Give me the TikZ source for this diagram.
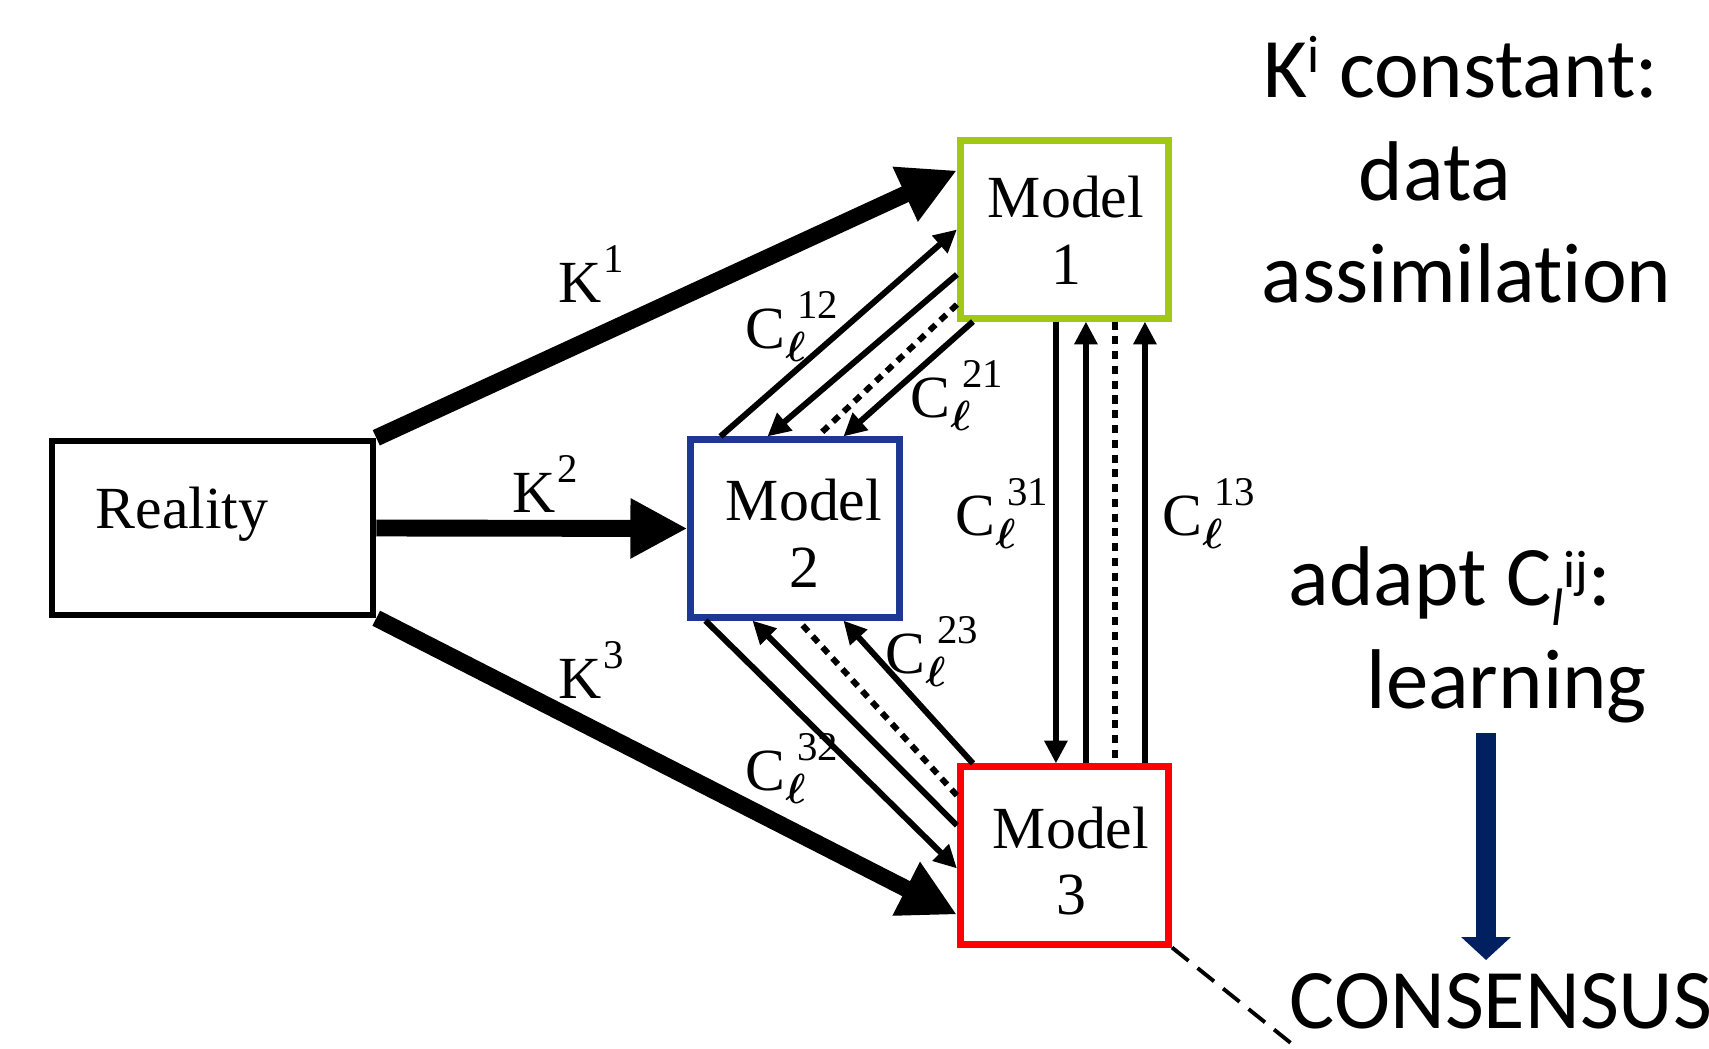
\documentclass[tikz,border=0pt]{standalone}
\usepackage{fontspec}
\setmainfont{Liberation Serif}
\newfontfamily\calib[Ligatures={NoCommon}]{Carlito}
\usetikzlibrary{arrows.meta,calc}
\definecolor{mgreen}{RGB}{160,200,20}
\definecolor{mblue}{RGB}{30,55,150}
\definecolor{mred}{RGB}{255,0,0}
\definecolor{navyc}{RGB}{0,32,96}
\newcommand{\clab}[1]{C\rlap{\raisebox{-3.7pt}{\fontsize{12pt}{12pt}\selectfont$\boldsymbol{\ell}$}}\hspace{3.4pt}\raisebox{8.3pt}{\fontsize{11.6pt}{12pt}\selectfont #1}}
\newcommand{\klab}[1]{K\hspace{0.6pt}\raisebox{8.3pt}{\fontsize{11.6pt}{12pt}\selectfont #1}}
\newcommand{\supsz}{\fontsize{15pt}{16pt}\selectfont}
\usepackage{amsmath}
\begin{document}
\begin{tikzpicture}[x=0.01cm,y=-0.01cm,
  modelbox/.style={draw, fill=white, line width=2pt, minimum width=2.08cm, minimum height=1.77cm, inner sep=0pt},
  modeltext/.style={align=center, inner sep=0pt, font=\fontsize{17pt}{19pt}\selectfont},
  realbox/.style={draw, fill=white, line width=1.8pt, minimum width=3.21cm, minimum height=1.74cm, inner sep=0pt},
  kline/.style={line width=4.8pt, -{Triangle[length=16.2pt,width=16pt]}},
  cline/.style={line width=1.7pt, -{Triangle[length=6.5pt,width=6.3pt]}},
  cdot/.style={line width=1.7pt, dash pattern=on 2.3pt off 1.9pt},
  lbl/.style={anchor=base west, inner sep=0pt, font=\fontsize{17pt}{19pt}\selectfont},
  side/.style={anchor=base west, inner sep=0pt, font=\calib\fontsize{24.1pt}{28pt}\selectfont},
  navyarrow/.style={navyc, line width=5.7pt, -{Triangle[length=6.5pt,width=13.7pt]}},
  consline/.style={line width=1.1pt, dash pattern=on 6pt off 3.3pt}
]
\useasboundingbox (0,0) rectangle (1709,1048);

% boxes
\node[realbox] (reality) at (212.5,528) {};
\node[lbl] (realitytext) at (95,528) {Reality};
\node[modelbox, draw=mgreen] (m1) at (1064.5,229.5) {};
\node[modelbox, draw=mblue] (m2) at (795,528.5) {};
\node[modelbox, draw=mred] (m3) at (1064.5,855.5) {};
\node[modeltext] (m1t) at (1066,230) {Model\\1};
\node[modeltext] (m2t) at (804,533) {Model\\2};
\node[modeltext] (m3t) at (1071,861) {Model\\3};

% labels
\node[lbl] (k1) at (558,302) {\klab{1}};
\node[lbl] (k2) at (512,512) {\klab{2}};
\node[lbl] (k3) at (558,698) {\klab{3}};
\node[lbl] (c12) at (745,348) {\clab{12}};
\node[lbl] (c21) at (910,417) {\clab{21}};
\node[lbl] (c31) at (955,535) {\clab{31}};
\node[lbl] (c13) at (1162,535) {\clab{13}};
\node[lbl] (c23) at (885,673) {\clab{23}};
\node[lbl] (c32) at (745,790) {\clab{32}};

% thick arrows
\draw[kline] (reality.north east) -- ($(m1.north west)+(0,33)$);
\draw[kline] (reality.east) -- (m2.west);
\draw[kline] (reality.south east) -- ($(m3.south west)+(0,-33)$);

% model 1 - model 2
\draw[cline] ($(m2.north west)+(33,0)$) -- (m1.west);
\draw[cline] ($(m1.west)+(0,45)$) -- ($(m2.north west)+(80,0)$);
\draw[cdot] ($(m1.south west)+(0,-17)$) -- ($(m2.north west)+(130,0)$);
\draw[cline] ($(m1.south west)+(16,0)$) -- ($(m2.north west)+(156,0)$);

% model 2 - model 3
\draw[cline] ($(m2.south west)+(18,0)$) -- ($(m3.north west)+(0,105)$);
\draw[cline] ($(m3.north west)+(0,62)$) -- ($(m2.south west)+(65,0)$);
\draw[cdot] ($(m3.north west)+(0,32)$) -- ($(m2.south west)+(111,0)$);
\draw[cline] ($(m3.north west)+(16,0)$) -- ($(m2.south west)+(156,0)$);

% model 1 - model 3
\draw[cline] ($(m1.south west)+(99,0)$) -- ($(m3.north west)+(99,0)$);
\draw[cline] ($(m3.north west)+(129,0)$) -- ($(m1.south west)+(129,0)$);
\draw[cdot] ($(m1.south west)+(158,0)$) -- ($(m3.north west)+(158,0)$);
\draw[cline] ($(m3.north west)+(188,0)$) -- ($(m1.south west)+(188,0)$);

% right-hand texts
\node[side] (t1) at (1263,97) {K\raisebox{7.1pt}{\supsz i} constant:};
\node[side] (t2) at (1358,200) {data};
\node[side] (t3) at (1261,302) {assimilation};
\node[side] (t4) at (1288,605) {adapt C\raisebox{-5.7pt}{\supsz\itshape l}\raisebox{5pt}{\supsz ij}:};
\node[side] (t5) at (1366,708) {learning};
\node[side] (cons) at (1289,1028) {CONSENSUS};

\coordinate (navytop) at (1486,733);
\coordinate (navytip) at (1486,960);
\draw[navyarrow] (navytop) -- (navytip);

\coordinate (dashend) at (1297,1048);
\draw[consline] (m3.south east) -- (dashend);
\end{tikzpicture}
\end{document}
